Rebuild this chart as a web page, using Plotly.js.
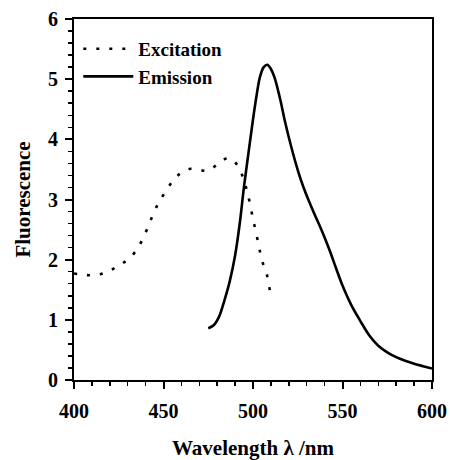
<!DOCTYPE html>
<html>
<head>
<meta charset="utf-8">
<script src="https://cdn.plot.ly/plotly-3.0.1.min.js"></script>
<style>html,body{margin:0;padding:0;background:#fff;}#chart{width:450px;height:460px;}</style>
</head>
<body>
<div id="chart"></div>
<script>
const excitationWavelength = [400, 405, 410, 415, 420, 425, 430, 435, 438, 441, 444, 447, 450, 455, 460, 465, 470, 475, 480, 485, 488, 491, 494, 497, 500, 503, 505, 508, 510];
const excitationValues = [1.77, 1.75, 1.74, 1.76, 1.82, 1.90, 2.00, 2.16, 2.32, 2.52, 2.74, 2.93, 3.08, 3.30, 3.45, 3.51, 3.49, 3.48, 3.58, 3.68, 3.67, 3.58, 3.40, 3.10, 2.68, 2.27, 1.99, 1.72, 1.36];
const emissionWavelength = [475, 478, 481, 484, 487, 490, 492.5, 495, 497.5, 500, 502, 504, 506, 508, 510, 512, 515, 518, 521.5, 525, 528, 531, 534, 537, 540, 543, 546.5, 550, 555, 560, 565, 570, 575, 580, 585, 590, 595, 600];
const emissionValues = [0.86, 0.91, 1.05, 1.32, 1.64, 2.07, 2.58, 3.22, 3.78, 4.33, 4.73, 5.05, 5.20, 5.24, 5.17, 5.03, 4.69, 4.28, 3.86, 3.49, 3.22, 2.99, 2.78, 2.58, 2.37, 2.14, 1.85, 1.57, 1.24, 0.98, 0.74, 0.57, 0.46, 0.38, 0.32, 0.27, 0.23, 0.19];
const seriesNames = ["Excitation", "Emission"];
const xTickVals = [400, 450, 500, 550, 600];
const yTickVals = [0, 1, 2, 3, 4, 5, 6];

const fontFam = '"Liberation Serif", "Times New Roman", serif';
const traces = [
  {x: excitationWavelength, y: excitationValues, name: seriesNames[0], mode: 'lines',
   line: {color: '#000', width: 2.6, dash: '3px,10px', shape: 'spline', smoothing: 1}},
  {x: emissionWavelength, y: emissionValues, name: seriesNames[1], mode: 'lines',
   line: {color: '#000', width: 2.6, shape: 'spline', smoothing: 1}}
];
const axisCommon = {
  showline: true, linecolor: '#000', linewidth: 2, mirror: true,
  ticks: 'outside', ticklen: 7, tickwidth: 2, tickcolor: '#000',
  showgrid: false, zeroline: false,
  tickfont: {family: fontFam, size: 20, color: '#000', weight: 'bold'}
};
const layout = {
  width: 450, height: 460,
  margin: {l: 74, r: 18, t: 19, b: 80},
  paper_bgcolor: '#fff', plot_bgcolor: '#fff',
  showlegend: true,
  legend: {x: 0.012, y: 0.97, xanchor: 'left', yanchor: 'top', bgcolor: 'rgba(0,0,0,0)',
    font: {family: fontFam, size: 19, color: '#000', weight: 'bold'}, tracegroupgap: 0, itemwidth: 50},
  xaxis: Object.assign({}, axisCommon, {
    range: [400, 600], tickvals: xTickVals, ticktext: xTickVals.map(String), ticklabelstandoff: 5,
    minor: {dtick: 10, ticklen: 4, tickwidth: 1.5, tickcolor: '#000', ticks: 'outside'},
    title: {text: 'Wavelength λ /nm', standoff: 20, font: {family: fontFam, size: 21, color: '#000', weight: 'bold'}}
  }),
  yaxis: Object.assign({}, axisCommon, {
    range: [0, 6], tickvals: yTickVals, ticktext: yTickVals.map(String), ticklabelstandoff: 3,
    minor: {dtick: 0.2, ticklen: 4, tickwidth: 1.5, tickcolor: '#000', ticks: 'outside'},
    title: {text: 'Fluorescence', standoff: 12, font: {family: fontFam, size: 21, color: '#000', weight: 'bold'}}
  })
};
Plotly.newPlot('chart', traces, layout, {displayModeBar: false, staticPlot: true});
</script>
</body>
</html>
